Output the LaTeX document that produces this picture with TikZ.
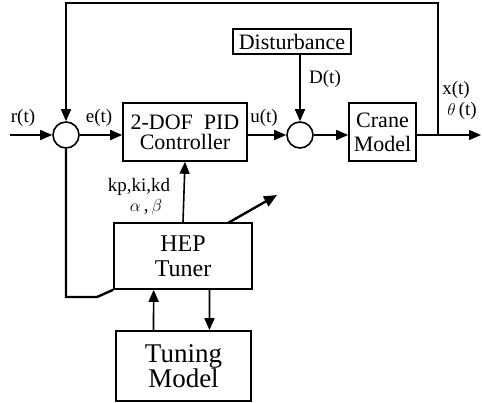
\documentclass[tikz,border=0pt]{standalone}
\usepackage{fontspec}
\setmainfont{Liberation Serif}
\usetikzlibrary{arrows.meta,calc}
\begin{document}
\begin{tikzpicture}[x=1pt,y=-1pt,
  line width=1.6pt,
  blk/.style={draw,rectangle,line width=1.6pt,inner sep=0pt,align=center},
  sumc/.style={draw,circle,line width=1.6pt,minimum size=26pt,inner sep=0pt},
  arr/.style={-{Triangle[length=12pt,width=10pt]}},
  lbl/.style={font=\fontsize{19}{19}\selectfont,inner sep=0pt},
  thick3/.style={line width=2.4pt}]
\useasboundingbox (0,0) rectangle (482,402);
% nodes
\node[sumc] (s1) at (66,135) {};
\node[sumc] (s2) at (300,135) {};
\node[blk,minimum width=124pt,minimum height=58pt,font=\fontsize{22}{20}\selectfont] (pid) at (185,132) {2-DOF\ \ PID\\Controller};
\node[blk,minimum width=118pt,minimum height=25pt,font=\fontsize{22}{22}\selectfont] (dist) at (292,41.5) {Disturbance};
\node[blk,minimum width=67pt,minimum height=58pt,font=\fontsize{22}{24}\selectfont] (crane) at (382.5,132) {Crane\\Model};
\node[blk,minimum width=138pt,minimum height=66pt,font=\fontsize{24}{25}\selectfont] (hep) at (183,256) {HEP\\Tuner};
\node[blk,minimum width=135pt,minimum height=70pt,font=\fontsize{27}{25}\selectfont] (tun) at (183.5,366) {Tuning\\Model};
% coordinates
\coordinate (in) at (10,135);
\coordinate (out) at (481,135);
\coordinate (br) at (438,135);
\coordinate (tr) at (438,3);
\coordinate (tl) at (66,3);
\coordinate (bl) at (66,297);
\coordinate (bm) at (97,297);
\coordinate (d1) at (228,223);
\coordinate (d2) at (277,195);
% labels
\node[lbl] (lr) at (23,118) {r(t)};
\node[lbl] (le) at (99,118) {e(t)};
\node[lbl] (lu) at (264,118) {u(t)};
\node[lbl] (ld) at (325,79) {D(t)};
\node[lbl] (lx) at (456,90) {x(t)};
\node[lbl] (lth) at (462,111) {$\theta$\,(t)};
\node[lbl] (lk) at (139,187) {kp,ki,kd};
\node[lbl] (lab) at (146,207) {$\alpha$\,,\,$\beta$};
% connectors
\draw[arr] (in) -- (s1.west);
\draw[arr] (s1.east) -- (s1.east -| pid.west);
\draw[arr] (s1.east -| pid.east) -- (s2.west);
\draw[arr] (s2.east) -- (s2.east -| crane.west);
\draw[arr] (s2.east -| crane.east) -- (out);
\draw[arr] (br) -- (tr) -- (tl) -- (s1.north);
\draw[arr] (dist.south -| s2) -- (s2.north);
\draw[arr] (hep.north) -- (pid.south);
\draw[thick3] (s1.south) -- (bl) -- (bm) -- (hep.south west);
\draw[thick3,-{Triangle[length=13pt,width=11pt]}] (d1) -- (d2);
\draw[arr] ($(tun.north west)!0.28!(tun.north east)$) -- ($(hep.south west)!0.29!(hep.south east)$);
\draw[arr] ($(hep.south west)!0.69!(hep.south east)$) -- ($(tun.north west)!0.69!(tun.north east)$);
\end{tikzpicture}
\end{document}
